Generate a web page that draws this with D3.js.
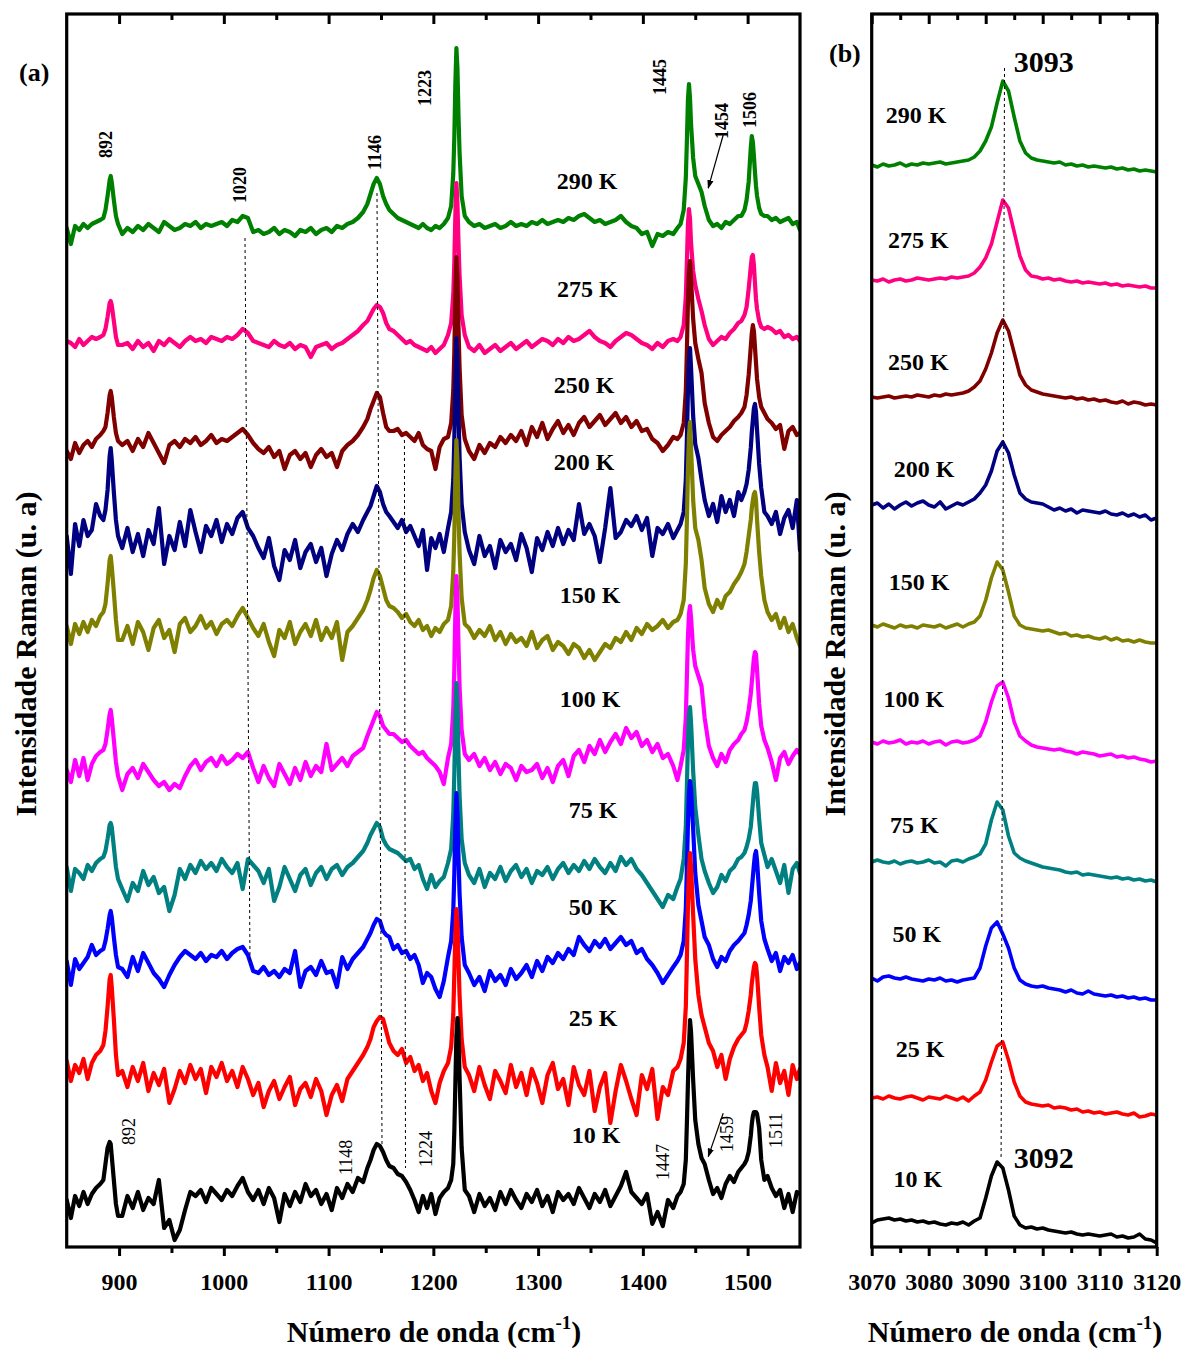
<!DOCTYPE html>
<html>
<head>
<meta charset="utf-8">
<script src="https://cdn.jsdelivr.net/npm/d3@7"></script>
<style>
  html, body { margin: 0; padding: 0; background: #fff; }
  svg { display: block; font-family: "Liberation Serif", "Times New Roman", serif; }
</style>
</head>
<body>
<div id="chart"></div>
<script>
// temperatures, top to bottom
const temps = ["290 K", "275 K", "250 K", "200 K", "150 K", "100 K", "75 K", "50 K", "25 K", "10 K"];

// panel (a): sampling grid in cm-1 (denser around the bands)
const waveA = [
  850, 854, 858, 862, 866, 870, 874, 878,
  882, 885, 887, 889, 891, 892, 893, 895, 897, 899,
  903, 908, 913, 918, 923, 928, 933, 938, 943, 948, 953, 958, 963, 968, 973, 978, 983, 988, 993, 998,
  1003, 1008, 1013, 1018, 1023, 1028, 1033, 1038, 1043, 1048, 1053, 1058, 1063, 1068, 1073, 1078, 1083,
  1088, 1093, 1098, 1103, 1108, 1113, 1118, 1123, 1128, 1133,
  1137, 1140, 1143, 1146, 1149, 1152, 1155, 1158,
  1162, 1166, 1170, 1174, 1178, 1182, 1186, 1190, 1194, 1198, 1202, 1206, 1210,
  1214, 1217, 1219, 1220, 1221, 1222, 1223, 1224, 1225, 1227, 1230,
  1234, 1239, 1244, 1249, 1254, 1259, 1264, 1269, 1274, 1279, 1284, 1289, 1294, 1299, 1304, 1309, 1314, 1319, 1324, 1329,
  1334, 1339, 1344, 1349, 1354, 1359, 1364, 1369, 1374, 1379, 1384, 1389, 1394, 1399, 1404, 1409, 1414, 1419, 1424, 1429,
  1433, 1436, 1439, 1441, 1442, 1443, 1444, 1445, 1446, 1448, 1450, 1453, 1456, 1459,
  1463, 1467, 1471, 1475, 1479, 1483, 1487, 1491,
  1494, 1497, 1499, 1501, 1503, 1504, 1505, 1506, 1507, 1508, 1509, 1511, 1513, 1516,
  1519, 1523, 1527, 1531, 1535, 1539, 1543, 1547, 1550
];

// panel (a): intensities above each trace's baseline (u. a)
const ramanA290 = [
  0, -8, 1, -1, 2, 0, 2, 3,
  4, 5, 9, 16, 24, 26, 23, 14, 6, 2,
  -3, 0, -2, 1, -1, 2, 0, -2, 3, 1, -1, 0, 2, 1, 3, 0, 2, 1, 2, 3, 1, 4, 3, 6, 5, -2, -1, -3, -2, 0, -3, -1, -2, -4, -1, -2, 0, -3, -1, 0, -2, 1, 0, 2, 3, 5, 8,
  12, 17, 22, 25, 22, 16, 12, 9,
  7, 5, 4, 3, 2, 1, 0, 2, 0, -1, 1, 0, 2,
  5, 11, 27, 45, 72, 90, 80, 56, 38, 16, 6,
  3, 1, 2, 0, 1, 2, 0, 1, 3, 1, 2, 1, 3, 2, 4, 2, 3, 4, 3, 5, 4, 6, 7, 5, 3, 4, 2, 3, 4, 6, 3, 1, 0, -3, -2, -9, -3, -4, -2, -3,
  0, 2, 9, 25, 43, 64, 72, 65, 52, 35, 26, 22, 18, 11,
  4, 1, 2, 0, 3, 2, 4, 6,
  6, 9, 14, 23, 40, 46, 43, 36, 28, 21, 16, 10, 7, 6,
  6, 4, 5, 3, 4, 5, 2, 3, -1
];
const ramanA275 = [
  1, 0, -2, 2, -1, 1, 3, 2,
  3, 4, 7, 13, 20, 21, 19, 11, 3, -1,
  -1, 0, -3, 1, -2, 0, -4, 1, -1, 2, 0, -2, 1, 3, 1, 2, 0, 3, 2, 1, 3, 2, 4, 7, 5, 1, 0, -1, -2, 1, -1, -2, 0, -3, -1, -2, -7, -2, -1, 0, -3, -1, 0, 2, 4, 6, 9,
  11, 14, 17, 19, 18, 15, 10, 7,
  6, 4, 2, 0, 1, -1, -2, -3, -4, -2, -5, -3, -1,
  4, 10, 24, 40, 64, 80, 70, 50, 34, 14, 4,
  -2, -4, -1, -5, -3, -1, -4, -2, 0, -3, -1, 1, -2, 0, 2, 1, -1, 2, 0, 3, 1, 2, 4, 6, 3, 1, 0, -2, 1, 3, 5, 4, 2, 0, -1, -3, 0, -2, 1, 2,
  1, 3, 9, 23, 40, 59, 67, 62, 50, 36, 29, 22, 16, 9,
  2, -1, 1, 3, 2, 5, 7, 10,
  11, 14, 18, 27, 38, 43, 44, 39, 30, 22, 17, 11, 8, 7,
  8, 7, 5, 6, 3, 4, 2, 3, 1
];
const ramanA250 = [
  -2, -6, 2, -3, 1, 3, 0, 4,
  6, 8, 10, 17, 26, 28, 25, 15, 7, 3,
  1, 3, -2, 4, 0, 7, 2, -3, -8, 1, 3, 0, 4, 2, 5, 1, 3, 6, 2, 4, 3, 5, 7, 9, 6, 2, -1, -3, 0, -5, -2, -11, -4, -2, -6, -3, -10, -4, -1, -5, -3, -10, -2, 1, 3, 6, 10,
  14, 19, 23, 27, 25, 17, 10, 8,
  8, 9, 6, 7, 5, 3, 7, 1, -1, -2, -11, 0, 4,
  5, 12, 28, 47, 76, 95, 84, 60, 40, 16, 4,
  -2, -6, 1, -3, 2, 0, 5, 2, 6, 3, 8, 1, 10, 5, 12, 4, 9, 13, 7, 11, 6, 12, 15, 10, 13, 16, 11, 14, 17, 12, 15, 10, 13, 8, 9, 4, 2, -2, 1, 5,
  4, 6, 12, 28, 48, 72, 88, 93, 84, 64, 52, 44, 37, 22,
  12, 5, 3, 6, 8, 10, 13, 15,
  17, 20, 26, 36, 50, 57, 61, 58, 50, 42, 34, 25, 20, 17,
  14, 12, 9, 11, -1, 8, 10, 6, 7
];
const ramanA200 = [
  2, -17, 8, -3, 10, 2, 5, 18,
  12, 10, 15, 25, 42, 46, 40, 24, 10, 2,
  -4, 6, -6, 3, -8, 5, -2, 16, -12, 2, -5, 9, -3, 15, 4, -6, 7, 2, 10, -1, 8, 3, 11, 14, 6, 2, -4, -9, 1, -13, -20, -5, -10, 0, -14, -6, -2, -11, -4, -18, -7, 0, -5, 3, 8, 4, 10,
  14, 17, 22, 27, 24, 18, 14, 12,
  9, 6, 10, 4, 7, 2, -3, 5, -15, 1, -4, 3, -6,
  6, 14, 30, 50, 80, 101, 90, 64, 42, 18, 4,
  -5, -12, 2, -8, -3, -14, 0, -6, -2, -10, 3, -4, -16, 1, -5, 4, -3, 6, -2, 5, 0, 18, 3, 8, 2, -11, 6, 26, 1, 4, 10, 7, 12, 5, 11, -8, 6, 3, 8, 1,
  5, 8, 14, 30, 50, 74, 90, 96, 86, 62, 48, 41, 30, 20,
  12, 18, 9, 22, 14, 20, 12, 24,
  20, 24, 28, 35, 46, 54, 60, 66, 68, 64, 55, 38, 26, 14,
  12, 8, 14, 3, 11, 15, 6, 20, -5
];
const ramanA150 = [
  3, -6, 4, -1, 5, 0, 6, 3,
  8, 10, 14, 24, 36, 38, 33, 20, 6, -4,
  -4, 3, -6, 5, 0, -9, 2, 6, -3, 1, -10, 4, 7, 0, 3, 8, 2, 5, -1, 4, 6, 3, 8, 12, 7, 2, -2, 4, -5, -12, 1, -3, 5, -6, 0, 4, -2, 6, -4, 2, -3, 5, -14, 0, 3, 7, 11,
  16, 21, 27, 31, 28, 22, 16, 13,
  12, 10, 7, 9, 5, 3, 6, 1, 3, -2, 2, 0, 4,
  6, 13, 30, 48, 77, 96, 85, 60, 40, 17, 4,
  2, -3, 1, -2, 3, -4, 0, -6, -1, -5, -3, -7, 0, -8, -4, -2, -9, -5, -7, -11, -6, -8, -13, -9, -14, -10, -6, -8, -3, -5, 0, -4, 2, -1, 4, 1, 3, 6, 2, 5,
  6, 9, 16, 34, 55, 80, 98, 105, 92, 66, 52, 46, 36, 22,
  14, 10, 16, 12, 18, 20, 24, 27,
  30, 34, 40, 48, 56, 62, 66, 69, 70, 66, 56, 40, 28, 16,
  10, 6, 9, 2, 7, 0, 4, -3, -7
];
const ramanA100 = [
  0, -6, 5, -3, 6, -5, 3, 7,
  9, 10, 13, 20, 28, 30, 26, 15, 4, -3,
  -10, -2, 1, -4, 3, -1, -5, -8, -6, -10, -7, -9, -3, 2, 5, 0, 4, 6, 2, 7, 3, 5, 8, 6, 9, 1, -6, 2, -4, -8, 3, -2, -7, 1, -5, 4, -3, 2, -1, 13, 0, 3, 6, 2, 7, 9, 11,
  17, 21, 25, 29, 27, 22, 20, 18,
  18, 16, 14, 15, 12, 10, 8, 9, 6, 4, 2, -1, -7,
  6, 13, 30, 50, 79, 97, 86, 62, 42, 20, 8,
  5, 8, 2, 6, 0, 4, -2, 3, 1, -5, 2, -1, 0, 3, -4, 1, -6, 2, 5, -3, 7, 10, 4, 12, 8, 15, 9, 14, 18, 13, 21, 16, 19, 12, 15, 9, 13, 6, 8, 2,
  -5, 2, 10, 26, 46, 66, 78, 82, 76, 60, 52, 47, 42, 26,
  12, 6, 2, 8, 4, 10, 13, 15,
  18, 20, 24, 30, 38, 44, 50, 56, 59, 58, 50, 33, 22, 15,
  11, 4, -5, 6, 9, 3, 7, 10, 8
];
const ramanA75 = [
  4, -8, 3, 1, -2, 5, 2, 6,
  8, 9, 12, 18, 25, 26, 24, 14, 4, -2,
  -7, -13, -4, -8, 2, -5, -1, -9, -6, -18, -10, 3, -2, 5, 1, 7, 3, 6, 2, 8, 4, 1, 6, -7, 8, 5, 2, -4, 3, -13, -6, 4, -2, -8, 0, 3, -5, 1, 4, -2, 3, 5, 0, 4, 6, 9, 12,
  16, 20, 23, 26, 24, 18, 15, 13,
  12, 11, 9, 7, 8, 3, 5, -2, -7, 0, -6, -3, -1,
  6, 13, 30, 50, 78, 96, 85, 60, 40, 18, 6,
  0, -4, 3, -6, 1, -2, 4, -3, 2, 5, -1, 3, -4, 2, 0, 4, -2, 3, 6, 1, 5, 2, 7, 3, 8, 4, 1, 6, 2, 9, 5, 8, 3, 0, -4, -8, -12, -16, -10, -12,
  -6, -2, 8, 24, 44, 66, 80, 84, 76, 52, 34, 20, 8, 2,
  -4, -9, -6, 0, -3, 2, 4, 8,
  9, 11, 14, 18, 24, 30, 36, 42, 46, 46, 42, 28, 16, 10,
  4, 8, 2, -4, 5, -9, 3, 6, 1
];
const ramanA50 = [
  2, -10, 3, -2, 1, 4, 10, 5,
  7, 8, 12, 18, 25, 27, 24, 14, 5, -1,
  -2, -6, 4, -3, 6, 1, -4, -7, -11, -5, 0, 4, 7, 5, 3, 6, 2, 5, 4, 7, 3, 6, 8, 9, 5, -3, -4, -1, -5, -3, -6, -2, -4, 7, -11, -3, -1, -5, 2, -4, -3, -11, 4, -2, 3, 6, 9,
  13, 16, 20, 23, 22, 17, 15, 14,
  8, 10, 6, 7, 3, 5, 0, -9, -4, -6, -12, -16, -8,
  4, 12, 27, 45, 70, 86, 76, 54, 36, 14, 0,
  -4, -10, -6, -13, -3, -8, -5, -10, -2, -7, -4, 0, -6, 2, -3, 4, 1, 6, 3, 8, 5, 14, 10, 7, 12, 9, 13, 8, 11, 14, 10, 12, 6, 8, 3, 0, -4, -9, -5, -1,
  2, 5, 12, 28, 48, 70, 86, 92, 88, 68, 46, 30, 22, 14,
  10, 3, -1, 4, 2, 7, 10, 12,
  14, 16, 20, 25, 32, 38, 44, 50, 55, 57, 52, 36, 22, 13,
  8, 2, 6, -3, 4, 1, 5, -2, 1
];
const ramanA25 = [
  7, -3, 5, 1, 8, -2, 6, 10,
  12, 15, 22, 34, 48, 50, 44, 28, 10, 0,
  2, -6, 4, -3, 6, -8, 1, -5, 3, -14, -7, 2, -4, 5, -2, 3, -9, 4, -1, 6, -3, 2, -6, 4, -2, -10, -4, -16, -8, -3, -12, -6, -1, -15, -7, -4, -11, -2, -8, -20, -10, -5, -13, -2, 2, 6, 10,
  14, 18, 24, 27, 29, 28, 22, 16,
  12, 10, 13, 6, 9, 2, 5, -3, 1, -8, -14, -4, 2,
  6, 14, 30, 50, 70, 83, 76, 58, 40, 18, 4,
  0, -8, 4, -5, -12, 2, -3, -9, 5, -6, 1, -10, 3, -4, -14, 0, 6, -7, -2, -15, 4, -5, -10, 2, -18, -6, 1, -24, -8, 5, -3, -12, -20, 0, -7, 3, -22, -6, -10, 2,
  4, 8, 16, 34, 58, 84, 102, 111, 104, 80, 58, 40, 30, 24,
  16, 12, 4, 10, -2, 8, 14, 18,
  20, 22, 26, 32, 40, 46, 50, 54, 56, 55, 50, 34, 20, 10,
  4, -8, 6, -4, 2, -10, 5, -2, 3
];
const ramanA10 = [
  0, -9, 2, -3, 4, -2, 3, 6,
  8, 10, 18, 26, 29, 28, 22, 10, -2, -8,
  -8, 2, -4, 4, -5, 1, -2, 10, -14, -10, -20, -15, -5, 4, 2, 5, -1, 6, 3, 0, 5, 2, 7, 11, 4, 0, 5, -2, 6, 1, -11, 3, -3, 4, -1, 8, 2, 5, -2, 3, -5, 6, 1, 8, 4, 11, 9,
  16, 20, 25, 28, 27, 24, 20, 17,
  16, 13, 12, 9, 5, 0, -6, 2, -4, 3, -7, 1, 4,
  6, 10, 18, 34, 58, 82, 91, 84, 62, 26, 5,
  2, -6, 3, -3, 1, -5, 4, -2, 5, 0, -4, 3, -1, 5, -3, 2, -6, 4, 0, 3, -2, 6, 1, -4, 3, -1, 5, -3, 2, 7, 14, 4, 1, -2, 3, -12, -6, -13, 0, -4,
  2, 4, 8, 20, 38, 58, 76, 90, 84, 60, 40, 28, 21, 18,
  10, 3, 6, 1, 8, 12, 9, 14,
  16, 18, 20, 24, 32, 38, 42, 44, 44, 44, 43, 36, 20, 10,
  12, 6, 2, 5, -4, 3, -6, 4, 3
];
// vertical stacking offsets of the traces (u. a)
const offsetsA = [509.5, 452, 400, 353.5, 307.5, 238.5, 186, 141, 86, 23.5];

// panel (b): 3070-3120 cm-1 region
const waveB = [
  3070, 3071, 3072, 3073, 3074, 3075, 3076, 3077, 3078, 3079,
  3080, 3081, 3082, 3083, 3084, 3085, 3086, 3087, 3088, 3089,
  3090, 3091, 3092, 3093, 3094, 3095, 3096, 3097, 3098, 3099,
  3100, 3101, 3102, 3103, 3104, 3105, 3106, 3107, 3108, 3109,
  3110, 3111, 3112, 3113, 3114, 3115, 3116, 3117, 3118, 3119,
  3120
];
const ramanB290 = [
  0, -1, 0.5, -0.5, 0, 1, -0.5, 0.5, 0, 1,
  0.5, 1, 1.5, 0.5, 1, 1.5, 2, 2.5, 4, 7,
  12, 19, 31, 42, 37, 24, 12, 6, 3.5, 2.5,
  2, 1.5, 1, 1.5, 0, 0.5, -0.5, 0, -1, -0.5,
  -1, -1.5, -1, -2, -1.5, -2.5, -2, -3, -2.5, -3,
  -3.5
];
const ramanB275 = [
  0, -0.5, 0.5, -1, 0, 0.5, -0.5, 0, 1, 0.5,
  0, 0.5, 1, 0.5, 1.5, 1, 1.5, 2, 3.5, 6.5,
  11, 18, 29, 40, 36, 24, 12, 5, 2, 1.5,
  0.5, 1, 0, 0.5, -0.5, -1, -0.5, -1.5, -1, -1.5,
  -2, -1.5, -2.5, -2, -3, -2.5, -3, -3.5, -3, -4,
  -4
];
const ramanB250 = [
  0, -0.5, 0, 0.5, -0.5, 0, 0.5, 0, 1, 0.5,
  0, 1, 0.5, 1.5, 1, 1.5, 2, 3, 5, 8,
  14, 22, 32, 38.5, 33, 22, 11, 6, 3.5, 2.5,
  1.5, 1, 0.5, 0, -0.5, 0, -1, -0.5, -1.5, -1,
  -2, -1.5, -2.5, -3, -2, -3.5, -2.5, -3, -4, -3.5,
  -4
];
const ramanB200 = [
  0, 1, -1.5, 0.5, -2, 0, 1.5, -0.5, 1, 2,
  0, -1, 1.5, -2, -0.5, 1, 0, 1.5, 3, 6,
  10, 17, 27, 31.5, 26, 15, 6, 3, 1.5, 1,
  0.5, -1, -2.5, -1.5, -3, -2, -4, -2.5, -3, -3.5,
  -4, -3, -4.5, -5, -4, -5.5, -4.5, -6, -5, -7.5,
  -6.5
];
const ramanB150 = [
  0.5, -0.5, 1, 0, -1, 0.5, -0.5, 0, -1, 0.5,
  0, -0.5, 0.5, -1, 0, 1, -0.5, 1, 2, 5,
  13, 24, 32, 28, 17, 5, 0.5, -1, -1.5, -2,
  -2.5, -2, -3, -4, -3.5, -5, -4.5, -5.5, -5, -6,
  -6.5, -5.5, -7, -6, -7.5, -7, -8, -7, -8, -8.5,
  -8.5
];
const ramanB100 = [
  0, -1, 0.5, -0.5, 0, 1, -1, 0, -0.5, 0.5,
  -1, 0, 0.5, -1.5, 0, 0.5, -0.5, 0, 1, 3,
  10, 20, 28, 30, 22, 10, 3, 0.5, -1.5, -2.5,
  -3, -3.5, -4, -3.5, -4.5, -5, -6, -5, -5.5, -6,
  -7, -6.5, -6, -7.5, -7, -8, -7.5, -8.5, -9, -10,
  -9.5
];
const ramanB75 = [
  0, 1, 0, -0.5, 0.5, -1, 0, 0.5, -0.5, 0,
  1, -0.5, 0, -2, 0.5, 1, 0, 1.5, 2.5, 4,
  9, 21, 30, 26, 13, 4.5, 2, 0.5, -0.5, -1.5,
  -2.5, -3, -3.5, -4, -5, -5.5, -5, -6.5, -6, -6.5,
  -7, -7.5, -8, -7.5, -8.5, -8, -9, -8.5, -9.5, -9,
  -10
];
const ramanB50 = [
  0, -1.5, 0.5, 1, 0, -0.5, 0.5, -0.5, -1, -1.5,
  -0.5, -1, 0, -1.5, -1, -2, -1, -0.5, 0, 5,
  16, 25, 28, 22, 15, 5, -1, -3, -4, -4.5,
  -4, -5, -5.5, -6, -7, -6, -7.5, -8, -6.5, -8,
  -8.5, -9, -8.5, -9.5, -9, -10, -9.5, -10.5, -10, -11,
  -11
];
const ramanB25 = [
  0, 0.5, -0.5, 1, 0, -0.5, 0.5, 1, 0, -1,
  0.5, 0, -0.5, 1, 0, -1, 0.5, -1.5, 1, 3,
  9, 18, 26, 28, 19, 8, 1, -2, -3, -3.5,
  -4, -3.5, -5, -4.5, -5, -6, -5.5, -7, -6.5, -7.5,
  -7, -8, -7.5, -7, -8, -8.5, -7.5, -9.5, -9, -8,
  -8.5
];
const ramanB10 = [
  -0.5, 1, 1.5, 2, 1, 1.5, 0.5, 1, 0, 0.5,
  -0.5, 0, -1, -1.5, -0.5, -1, 0, -1.5, 0.5, 2,
  12, 23, 30, 27, 16, 3, -1.5, -3, -2.5, -3.5,
  -3, -4, -4.5, -5, -5.5, -5, -6, -6.5, -6, -6.5,
  -7, -6.5, -6, -7.5, -7, -8, -7.5, -6, -8.5, -9,
  -10.5
];
const offsetsB = [541, 483.5, 425, 371, 310.5, 252.5, 192.5, 134.5, 74.5, 12.5];

const seriesA = [ramanA290, ramanA275, ramanA250, ramanA200, ramanA150, ramanA100, ramanA75, ramanA50, ramanA25, ramanA10];
const seriesB = [ramanB290, ramanB275, ramanB250, ramanB200, ramanB150, ramanB100, ramanB75, ramanB50, ramanB25, ramanB10];

// band assignments written on the plot
const bandsTop = ["892", "1020", "1146", "1223", "1445", "1454", "1506"];
const bandsBottom = ["892", "1148", "1224", "1447", "1459", "1511"];

const colors = ["#008000", "#ff0080", "#800000", "#000080", "#808000", "#ff00ff", "#008080", "#0000ff", "#ff0000", "#000000"];

// ---- layout ----
const width = 1186, height = 1351;
const plotTop = 14, plotBottom = 1247;
const xA = d3.scaleLinear([850, 1550], [66.7, 800]);
const xB = d3.scaleLinear([3070, 3120], [871.7, 1156.7]);
const y = d3.scaleLinear([0, 616.5], [plotBottom, plotTop]);

const svg = d3.select("#chart").append("svg")
  .attr("width", width)
  .attr("height", height)
  .attr("viewBox", [0, 0, width, height]);

svg.append("defs").call(defs => {
  defs.append("clipPath").attr("id", "clipA").append("rect")
    .attr("x", xA.range()[0]).attr("y", plotTop)
    .attr("width", xA.range()[1] - xA.range()[0]).attr("height", plotBottom - plotTop);
  defs.append("clipPath").attr("id", "clipB").append("rect")
    .attr("x", xB.range()[0]).attr("y", plotTop)
    .attr("width", xB.range()[1] - xB.range()[0]).attr("height", plotBottom - plotTop);
  defs.append("marker").attr("id", "arrow")
    .attr("viewBox", "0 0 10 10").attr("refX", 9).attr("refY", 5)
    .attr("markerWidth", 9).attr("markerHeight", 9).attr("orient", "auto")
    .attr("markerUnits", "userSpaceOnUse")
    .append("path").attr("d", "M0,1.5L10,5L0,8.5Z").attr("fill", "#000");
});

function drawSpectra(series, wave, offsets, x, clip, lineWidth) {
  const g = svg.append("g").attr("clip-path", `url(#${clip})`).attr("fill", "none");
  series.forEach((vals, k) => {
    if (vals.length !== wave.length) console.warn(temps[k], vals.length, wave.length);
    const n = Math.min(vals.length, wave.length);
    const pts = d3.range(n).map(i => [wave[i], vals[i] + offsets[k]]);
    g.append("path")
      .attr("d", d3.line().x(d => x(d[0])).y(d => y(d[1]))(pts))
      .attr("stroke", colors[k])
      .attr("stroke-width", lineWidth)
      .attr("stroke-linejoin", "round")
      .attr("stroke-linecap", "round");
  });
}

function dashed(x, segs) {
  svg.append("g").attr("stroke", "#000").attr("stroke-width", 1).attr("stroke-dasharray", "3,3")
    .selectAll("line").data(segs).join("line")
    .attr("x1", d => x(d[0])).attr("y1", d => y(d[1]))
    .attr("x2", d => x(d[2])).attr("y2", d => y(d[3]));
}

function frameAndAxes(x, major, minor, clsize) {
  const [x0, x1] = x.range();
  // bottom: outward ticks with labels
  svg.append("g").attr("transform", `translate(0,${plotBottom})`)
    .call(d3.axisBottom(x).tickValues(minor).tickSize(6).tickFormat(""))
    .call(g => g.select(".domain").remove());
  svg.append("g").attr("transform", `translate(0,${plotBottom})`)
    .call(d3.axisBottom(x).tickValues(major).tickSize(9).tickPadding(17).tickFormat(d3.format("d")))
    .call(g => g.select(".domain").remove())
    .call(g => g.selectAll("text").attr("font-family", "Liberation Serif").attr("font-weight", "bold")
      .attr("font-size", clsize).attr("fill", "#000"));
  // top: inward ticks
  svg.append("g").attr("transform", `translate(0,${plotTop})`)
    .call(d3.axisTop(x).tickValues(minor).tickSize(-6).tickFormat(""))
    .call(g => g.select(".domain").remove());
  svg.append("g").attr("transform", `translate(0,${plotTop})`)
    .call(d3.axisTop(x).tickValues(major).tickSize(-10).tickFormat(""))
    .call(g => g.select(".domain").remove());
  svg.selectAll(".tick line").attr("stroke", "#000").attr("stroke-width", 3);
  svg.append("rect")
    .attr("x", x0).attr("y", plotTop).attr("width", x1 - x0).attr("height", plotBottom - plotTop)
    .attr("fill", "none").attr("stroke", "#000").attr("stroke-width", 3.2);
}

function axisTitles(cx, yTitleX) {
  const t = svg.append("text")
    .attr("x", cx).attr("y", 1342)
    .attr("text-anchor", "middle").attr("font-weight", "bold").attr("font-size", 30);
  t.append("tspan").text("Número de onda (cm");
  t.append("tspan").attr("font-size", 19).attr("dy", -13).text("-1");
  t.append("tspan").attr("dy", 13).text(")");
  svg.append("text")
    .attr("transform", `translate(${yTitleX},654) rotate(-90)`)
    .attr("text-anchor", "middle").attr("font-weight", "bold").attr("font-size", 30)
    .text("Intensidade Raman (u. a)");
}

function rotatedLabels(x, items, weight) {
  svg.append("g").attr("font-size", 18).attr("font-weight", weight)
    .selectAll("text").data(items).join("text")
    .attr("transform", d => `translate(${x(d[1])},${y(d[2])}) rotate(-90)`)
    .attr("dy", "0.35em")
    .text(d => d[0]);
}

function tempLabels(x, anchors, size) {
  svg.append("g").attr("font-size", size).attr("font-weight", "bold").attr("text-anchor", "middle")
    .selectAll("text").data(temps).join("text")
    .attr("x", (d, i) => x(anchors[i][0]))
    .attr("y", (d, i) => y(anchors[i][1]))
    .text(d => d);
}

// ---- panel (a) ----
drawSpectra(seriesA, waveA, offsetsA, xA, "clipA", 4.2);
dashed(xA, [[1020.2, 504.5, 1025, 141], [1146.2, 527, 1151, 50], [1172.4, 403.5, 1173.4, 39.5]]);
frameAndAxes(xA, d3.range(900, 1501, 100), d3.range(950, 1501, 100), 24);
tempLabels(xA, [[1346.7, 529], [1347.1, 475], [1343.8, 427], [1343.8, 388.5], [1349.5, 322],
  [1349.5, 270], [1352.4, 214.5], [1352.4, 166], [1352.4, 110.5], [1355.3, 52]], 24);
rotatedLabels(xA, bandsTop.map((b, i) => [b, ...[[887.5, 544.5], [1015.5, 522], [1144.3, 538.5],
  [1192, 570.5], [1416.3, 576], [1475.5, 554], [1502.3, 559.5]][i]]), "bold");
rotatedLabels(xA, bandsBottom.map((b, i) => [b, ...[[909.4, 51], [1116.6, 36], [1193, 40],
  [1419.2, 33.5], [1480.3, 47.5], [1527, 49.5]][i]]), "normal");
svg.append("g").attr("stroke", "#000").attr("stroke-width", 1.2)
  .selectAll("line").data([[1476.7, 556, 1462.4, 529.4], [1476.7, 66.9, 1462.4, 45.2]]).join("line")
  .attr("x1", d => xA(d[0])).attr("y1", d => y(d[1]))
  .attr("x2", d => xA(d[2])).attr("y2", d => y(d[3]))
  .attr("marker-end", "url(#arrow)");
axisTitles(434, 36);
svg.append("text").attr("x", 19).attr("y", 81).attr("font-weight", "bold").attr("font-size", 26).text("(a)");

// ---- panel (b) ----
drawSpectra(seriesB, waveB, offsetsB, xB, "clipB", 3.6);
dashed(xB, [[3093.3, 589.5, 3092.7, 45]]);
frameAndAxes(xB, d3.range(3070, 3121, 10), d3.range(3075, 3120, 10), 24);
tempLabels(xB, [[3077.8, 562], [3078.2, 499.5], [3078.2, 438.5], [3079.2, 385], [3078.3, 328.5],
  [3077.4, 270], [3077.5, 207], [3077.9, 152.5], [3078.5, 95], [3078.1, 30]], 24);
svg.append("g").attr("font-size", 30).attr("font-weight", "bold")
  .selectAll("text").data([["3093", 3094.9, 587.5], ["3092", 3094.9, 39.5]]).join("text")
  .attr("x", d => xB(d[1])).attr("y", d => y(d[2])).text(d => d[0]);
axisTitles(1015, 845);
svg.append("text").attr("x", 829).attr("y", 62).attr("font-weight", "bold").attr("font-size", 26).text("(b)");
</script>
</body>
</html>
